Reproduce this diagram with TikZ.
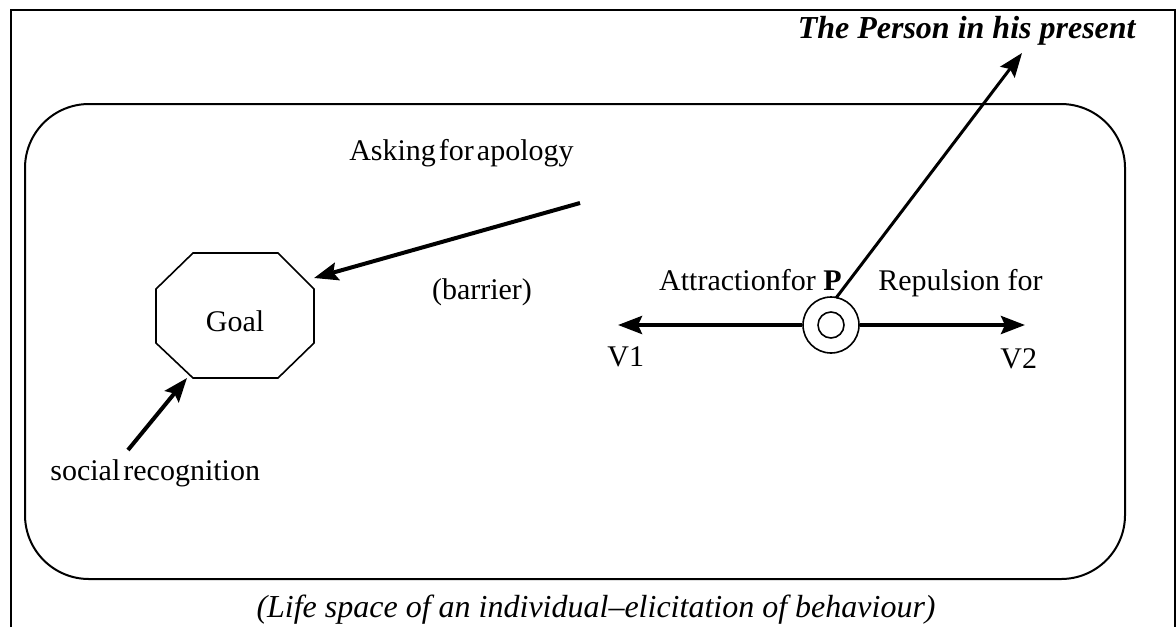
\documentclass[tikz,border=0pt]{standalone}
\usepackage{fontspec}
\setmainfont{Liberation Serif}
\usetikzlibrary{arrows.meta}
\newcommand{\tightsp}{\hspace{0.1em}}
\begin{document}
\begin{tikzpicture}[x=0.5pt,y=-0.5pt,
  lbl/.style={inner sep=0pt,font=\fontsize{15}{18}\selectfont},
  ital/.style={inner sep=0pt,font=\fontsize{16}{19}\selectfont\itshape},
  thickarrow/.style={line width=2pt,-{Stealth[length=12pt,width=9pt,inset=2pt]}},
  border/.style={line width=0.8pt},
  space/.style={line width=1pt,rounded corners=32pt},
  ring/.style={circle,draw,line width=0.8pt,inner sep=0pt}]
\useasboundingbox (0,0) rectangle (1176,627);
% page frame, open at the bottom
\draw[border] (11,627) -- (11,10) -- (1176,10);
\draw[border] (1175,10) -- (1175,627);
% life space
\draw[space] (25,104) rectangle (1125,579);
% goal region
\draw[line width=0.8pt] (193,253) -- (278,253) -- (314,289) -- (314,343) -- (278,378)
  -- (193,378) -- (156,343) -- (156,289) -- cycle;
\node[lbl] (goal) at (235,321) {Goal};
\coordinate (goalNE) at (314,278);
\coordinate (goalSW) at (187,378);
% the person
\node[ring,minimum size=28pt] (p) at (831,325) {};
\node[ring,minimum size=13pt] (pin) at (831,325) {};
% labels
\node[lbl,anchor=base east] (ask) at (574,160) {Asking\tightsp for\tightsp apology};
\node[lbl,anchor=center] (barrier) at (482,292) {(barrier)};
\node[lbl,anchor=base east] (attr) at (842,290) {Attractionfor \textbf{P}};
\node[lbl,anchor=base west] (rep) at (878,290) {Repulsion for};
\node[lbl,anchor=base west] (v1) at (607,366) {V1};
\node[lbl,anchor=base west] (v2) at (1000,368) {V2};
\node[lbl,anchor=base west] (soc) at (50,480) {social\tightsp recognition};
\node[ital,anchor=base east,font=\fontsize{16}{19}\selectfont\bfseries\itshape] (person) at (1136,38) {The Person in his present};
\node[ital,anchor=base] (caption) at (596,617) {(Life space of an individual--elicitation of behaviour)};
% arrow end points
\coordinate (askTail) at (580,203);
\coordinate (socTail) at (128,450);
\coordinate (leftTip) at (618,325);
\coordinate (rightTip) at (1025,325);
\coordinate (personTip) at (1022,53);
\coordinate (pTop) at (836,298);
% forces
\draw[thickarrow] (askTail) -- (goalNE);
\draw[thickarrow] (socTail) -- (goalSW);
\draw[thickarrow] (p.west) -- (leftTip);
\draw[thickarrow] (p.east) -- (rightTip);
\draw[line width=1.5pt,-{Stealth[length=12pt,width=9pt,inset=2pt]}] (pTop) -- (personTip);
\end{tikzpicture}
\end{document}
